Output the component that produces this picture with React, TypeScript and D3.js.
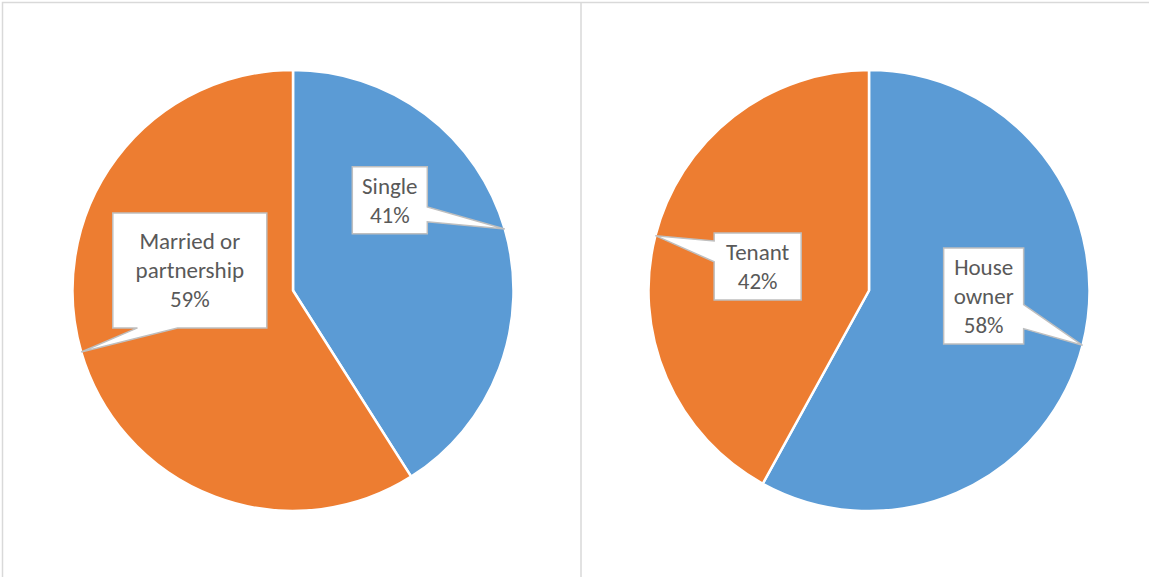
import React from "react";
import * as d3 from "d3";

const maritalCategories = ["Single", "Married or partnership"];
const maritalValues = [41, 59];
const housingCategories = ["House owner", "Tenant"];
const housingValues = [58, 42];
const maritalLabelLines = [["Single", "41%"], ["Married or", "partnership", "59%"]];
const housingLabelLines = [["House", "owner", "58%"], ["Tenant", "42%"]];

const W = 1149;
const H = 577;
const BLUE = "#5B9BD5";
const ORANGE = "#ED7D31";
const TEXT = "#595959";
const BORDER = "#d9d9d9";
const R = 220.5;
const LINE_H = 29;

type Callout = { cx: number; cy: number; w: number; h: number; side: "right" | "bottom" | "left"; b0: number; b1: number };

const pies = [
  {
    center: [293, 290.5],
    cats: maritalCategories,
    vals: maritalValues,
    lines: maritalLabelLines,
    colors: [BLUE, ORANGE],
    callouts: [
      { cx: 0.439, cy: -0.409, w: 75, h: 67, side: "right", b0: 0.6, b1: 0.82 },
      { cx: -0.468, cy: -0.091, w: 154, h: 115, side: "bottom", b0: 0.16, b1: 0.42 },
    ] as Callout[],
  },
  {
    center: [869, 290.5],
    cats: housingCategories,
    vals: housingValues,
    lines: housingLabelLines,
    colors: [BLUE, ORANGE],
    callouts: [
      { cx: 0.52, cy: 0.025, w: 80, h: 96, side: "right", b0: 0.59, b1: 0.84 },
      { cx: -0.505, cy: -0.109, w: 87, h: 67, side: "left", b0: 0.12, b1: 0.43 },
    ] as Callout[],
  },
];

function calloutPath(x0: number, y0: number, w: number, h: number, c: Callout, tip: [number, number]) {
  const x1 = x0 + w;
  const y1 = y0 + h;
  const pts: [number, number][] = [];
  if (c.side === "right") {
    pts.push([x0, y0], [x1, y0], [x1, y0 + c.b0 * h], tip, [x1, y0 + c.b1 * h], [x1, y1], [x0, y1]);
  } else if (c.side === "bottom") {
    pts.push([x0, y0], [x1, y0], [x1, y1], [x0 + c.b1 * w, y1], tip, [x0 + c.b0 * w, y1], [x0, y1]);
  } else {
    pts.push([x0, y0], [x1, y0], [x1, y1], [x0, y1], [x0, y0 + c.b1 * h], tip, [x0, y0 + c.b0 * h]);
  }
  return "M" + pts.map((p) => p.join(",")).join("L") + "Z";
}

export default function App() {
  const pieGen = d3.pie<number>().sort(null).value((d) => d);
  const arcGen = d3.arc<d3.PieArcDatum<number>>().innerRadius(0).outerRadius(R);

  return (
    <svg width={W} height={H} style={{ position: "absolute", left: 0, top: 0, background: "#fff" }}>
      <rect x={0} y={0} width={W} height={H} fill="#fff" />
      <rect x={2.5} y={2.5} width={W + 20} height={H + 20} fill="none" stroke={BORDER} strokeWidth={1.5} />
      <line x1={581} x2={581} y1={2.5} y2={H} stroke={BORDER} strokeWidth={1.5} />
      {pies.map((p, pi) => {
        const arcs = pieGen(p.vals);
        const [cx, cy] = p.center;
        return (
          <g key={pi} transform={`translate(${cx},${cy})`}>
            {arcs.map((a, i) => (
              <path key={i} d={arcGen(a) || ""} fill={p.colors[i]} stroke="#fff" strokeWidth={2.5} strokeLinejoin="round" />
            ))}
            {arcs.map((a, i) => {
              const c = p.callouts[i];
              const mid = (a.startAngle + a.endAngle) / 2;
              const tip: [number, number] = [R * Math.sin(mid), -R * Math.cos(mid)];
              const bx = c.cx * R;
              const by = c.cy * R;
              const x0 = bx - c.w / 2;
              const y0 = by - c.h / 2;
              const lines = p.lines[i];
              return (
                <g key={"l" + i}>
                  <path d={calloutPath(x0, y0, c.w, c.h, c, tip)} fill="#fff" stroke="#bfbfbf" strokeWidth={1.5} />
                  <text
                    textAnchor="middle"
                    fontFamily="Carlito, Lato, sans-serif"
                    fontSize={23}
                    fill={TEXT}
                    aria-label={p.cats[i]}
                  >
                    {lines.map((ln, li) => (
                      <tspan key={li} x={bx} y={by + (li - (lines.length - 1) / 2) * LINE_H} dominantBaseline="central">
                        {ln}
                      </tspan>
                    ))}
                  </text>
                </g>
              );
            })}
          </g>
        );
      })}
    </svg>
  );
}
